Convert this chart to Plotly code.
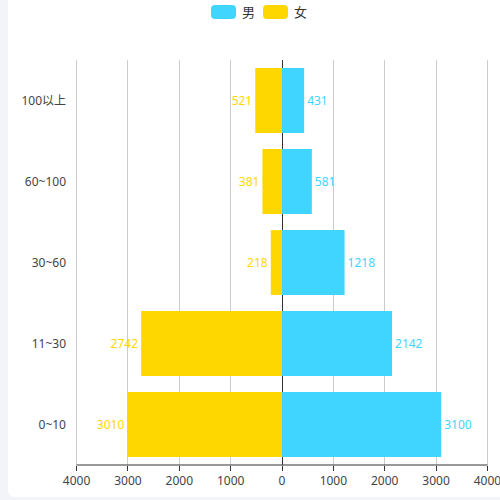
import plotly.graph_objects as go

categories = ["0~10", "11~30", "30~60", "60~100", "100以上"]
male = [3100, 2142, 1218, 581, 431]
female = [3010, 2742, 218, 381, 521]
tick_vals = [-4000, -3000, -2000, -1000, 0, 1000, 2000, 3000, 4000]
tick_text = ["4000", "3000", "2000", "1000", "0", "1000", "2000", "3000", "4000"]

BLUE = "#40d5ff"
GOLD = "#ffd700"
FONT = "Noto Sans, Noto Sans CJK SC"
BG = "#f3f4f9"

W, H = 500, 500
L, R, T, B = 75, 11, 60, 35
PW, PH = W - L - R, H - T - B
XR = 4030


def px(x):
    return (x - L) / PW


def py(y):
    return (H - B - y) / PH


def rounded(x0, y0, x1, y1, r):
    p = []
    p.append(f"M{px(x0 + r)},{py(y0)}")
    p.append(f"L{px(x1 - r)},{py(y0)}")
    p.append(f"Q{px(x1)},{py(y0)} {px(x1)},{py(y0 + r)}")
    p.append(f"L{px(x1)},{py(y1 - r)}")
    p.append(f"Q{px(x1)},{py(y1)} {px(x1 - r)},{py(y1)}")
    p.append(f"L{px(x0 + r)},{py(y1)}")
    p.append(f"Q{px(x0)},{py(y1)} {px(x0)},{py(y1 - r)}")
    p.append(f"L{px(x0)},{py(y0 + r)}")
    p.append(f"Q{px(x0)},{py(y0)} {px(x0 + r)},{py(y0)}")
    p.append("Z")
    return " ".join(p)


fig = go.Figure()
fig.add_trace(go.Bar(
    y=categories, x=male, orientation="h", name="男",
    marker=dict(color=BLUE, line=dict(width=0)),
    text=[str(v) for v in male], textposition="outside", textangle=0,
    textfont=dict(color=BLUE, size=12, family=FONT),
    cliponaxis=False, showlegend=False,
))
fig.add_trace(go.Bar(
    y=categories, x=[-v for v in female], orientation="h", name="女",
    marker=dict(color=GOLD, line=dict(width=0)),
    text=[str(v) for v in female], textposition="outside", textangle=0,
    textfont=dict(color=GOLD, size=12, family=FONT),
    cliponaxis=False, showlegend=False,
))

shapes = [
    dict(type="path", xref="paper", yref="paper", path=rounded(8, -6, 520, 497, 7),
         fillcolor="white", line=dict(width=0), layer="below"),
    dict(type="path", xref="paper", yref="paper", path=rounded(211, 5, 236, 19, 4),
         fillcolor=BLUE, line=dict(width=0)),
    dict(type="path", xref="paper", yref="paper", path=rounded(263, 5, 288, 19, 4),
         fillcolor=GOLD, line=dict(width=0)),
]
annotations = [
    dict(xref="paper", yref="paper", x=px(240), y=py(12), text="男", showarrow=False,
         xanchor="left", yanchor="middle", font=dict(size=13, color="#333", family=FONT)),
    dict(xref="paper", yref="paper", x=px(292), y=py(12), text="女", showarrow=False,
         xanchor="left", yanchor="middle", font=dict(size=13, color="#333", family=FONT)),
]

fig.update_layout(
    width=W, height=H,
    margin=dict(l=L, r=R, t=T, b=B, pad=0, autoexpand=False),
    barmode="relative", bargap=0.2,
    paper_bgcolor=BG, plot_bgcolor="rgba(0,0,0,0)",
    font=dict(family=FONT, size=12, color="#444"),
    shapes=shapes, annotations=annotations,
    xaxis=dict(range=[-XR, XR], tickvals=tick_vals, ticktext=tick_text,
               showgrid=True, gridcolor="#cccccc", gridwidth=1,
               zeroline=True, zerolinecolor="#333", zerolinewidth=1,
               showline=False, automargin=False,
               ticks="outside", ticklen=5, tickcolor="#333",
               ticklabeloverflow="allow",
               tickfont=dict(size=12, color="#444"), fixedrange=True),
    yaxis=dict(categoryorder="array", categoryarray=categories,
               showgrid=False, showline=False, ticks="", zeroline=False,
               ticklabelstandoff=8, automargin=False,
               tickfont=dict(size=12, color="#444"), fixedrange=True),
)

# x axis baseline spanning the -4000..4000 tick range
fig.add_shape(type="line", xref="x", yref="paper", x0=tick_vals[0], x1=tick_vals[-1],
              y0=0, y1=0, line=dict(color="#333", width=1))

fig.write_html(
    "out.html",
    config={"displayModeBar": False},
    post_script="document.body.style.margin='0';document.body.style.overflow='hidden';"
                "document.body.style.background='" + BG + "';",
)
